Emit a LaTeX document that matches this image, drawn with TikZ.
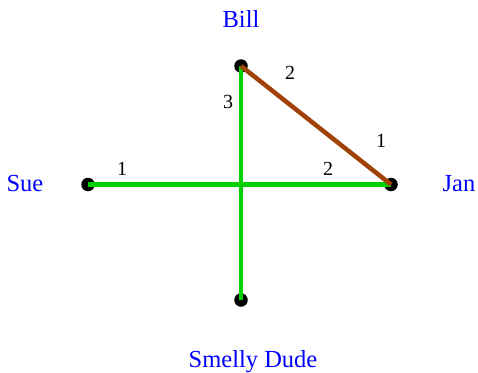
\documentclass[tikz,border=0pt]{standalone}
\usepackage{fontspec}
\setmainfont{Liberation Serif}
\definecolor{edgegreen}{RGB}{0,208,0}
\definecolor{edgebrown}{RGB}{160,66,8}
\tikzset{
  vertex/.style={circle,fill=black,inner sep=0pt,minimum size=13.5pt},
  vlabel/.style={text=blue,font=\fontsize{24.5}{28}\selectfont,anchor=base,inner sep=0pt},
  weight/.style={text=black,font=\fontsize{20}{24}\selectfont,anchor=base,inner sep=0pt},
  greenedge/.style={draw=edgegreen,line width=4.8pt},
  brownedge/.style={draw=edgebrown,line width=4.5pt}
}
\begin{document}
\begin{tikzpicture}[x=1pt,y=-1pt]
\useasboundingbox (0,0) rectangle (478,372);
\node[vertex] (bill) at (241,66) {};
\node[vertex] (sue) at (88,184.5) {};
\node[vertex] (jan) at (391,184.5) {};
\node[vertex] (dude) at (241,300) {};
\draw[greenedge] (bill.center) -- (dude.center);
\draw[greenedge] (sue.center) -- (jan.center);
\draw[brownedge] (bill.center) -- (jan.center);
\node[vlabel] (billname) at (241,27) {Bill};
\node[vlabel] (suename) at (25,191) {Sue};
\node[vlabel] (janname) at (459,191) {Jan};
\node[vlabel] (dudename) at (253,367) {Smelly Dude};
\node[weight] (w1) at (122,175) {1};
\node[weight] (w2) at (328,175) {2};
\node[weight] (w3) at (228,108) {3};
\node[weight] (w4) at (290,79) {2};
\node[weight] (w5) at (381,147) {1};
\end{tikzpicture}
\end{document}
